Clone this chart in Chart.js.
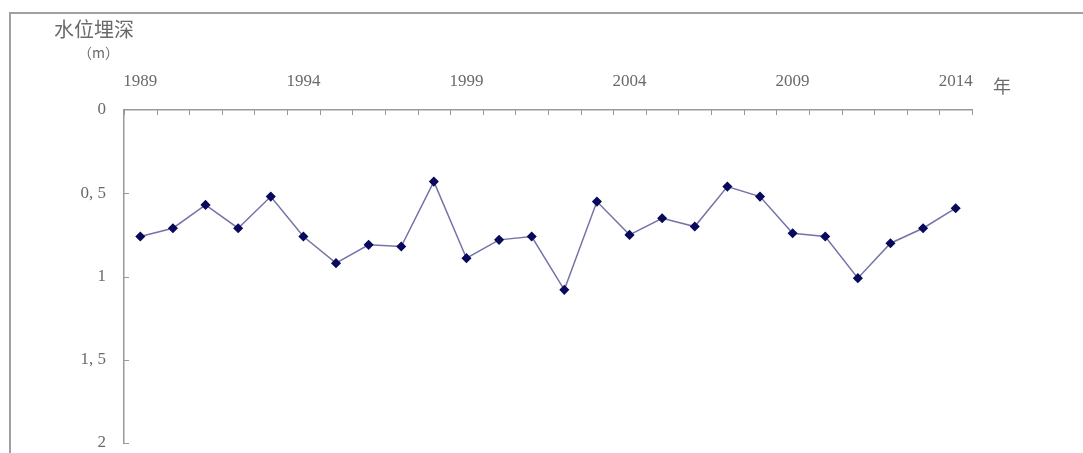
<!DOCTYPE html>
<html>
<head>
<meta charset="utf-8">
<script src="https://cdn.jsdelivr.net/npm/chart.js@4"></script>
<style>
  html, body { margin: 0; padding: 0; background: #fff; }
  #wrap { position: relative; width: 1083px; height: 453px; }
</style>
</head>
<body>
<div id="wrap"><canvas id="c" width="1083" height="453"></canvas></div>
<script>
// years on the top axis, one point per year
var years = [1989,1990,1991,1992,1993,1994,1995,1996,1997,1998,1999,2000,2001,
             2002,2003,2004,2005,2006,2007,2008,2009,2010,2011,2012,2013,2014];
// 水位埋深 (m)
var depth = [0.76,0.71,0.57,0.71,0.52,0.76,0.92,0.81,0.82,0.43,0.89,0.78,0.76,
             1.08,0.55,0.75,0.65,0.70,0.46,0.52,0.74,0.76,1.01,0.80,0.71,0.59];
var yearLabels = [1989, 1994, 1999, 2004, 2009, 2014];
var yTickLabels = { 0: '0', 0.5: '0, 5', 1: '1', 1.5: '1, 5', 2: '2' };

var AXIS = '#9a9a9a';
var TEXT = '#6a6a6a';
var SERIF = '"Liberation Serif", "DejaVu Serif", serif';
var CJK = '"Noto Sans CJK SC", sans-serif';

var decor = {
  id: 'decor',
  beforeDraw: function(chart) {
    var c = chart.ctx;
    c.save();
    c.strokeStyle = '#a0a0a0';
    c.lineWidth = 2;
    c.beginPath();
    c.moveTo(10, 453); c.lineTo(10, 13); c.lineTo(1083, 13);
    c.stroke();
    c.restore();
  },
  afterDraw: function(chart) {
    var c = chart.ctx;
    var xs = chart.scales.x, ys = chart.scales.y;
    c.save();
    // inward tick marks
    c.strokeStyle = AXIS;
    c.lineWidth = 1;
    c.beginPath();
    for (var i = 0; i <= years.length; i++) {
      var px = Math.round(xs.getPixelForValue(i - 0.5)) + 0.5;
      c.moveTo(px, xs.bottom); c.lineTo(px, xs.bottom + 5);
    }
    [0.5, 1, 1.5, 2].forEach(function(v) {
      var py = Math.round(ys.getPixelForValue(v)) + 0.5;
      c.moveTo(ys.right, py); c.lineTo(ys.right + 5, py);
    });
    c.stroke();
    // titles
    c.fillStyle = TEXT;
    c.textBaseline = 'middle';
    c.font = '20px ' + CJK;
    c.fillText('水位埋深', 54, 29);
    c.font = '14px ' + CJK;
    c.fillText('（m）', 78, 53);
    c.font = '18px ' + CJK;
    c.fillText('年', 993, 86);
    c.restore();
  }
};

new Chart(document.getElementById('c'), {
  type: 'line',
  data: {
    labels: years,
    datasets: [{
      data: depth,
      borderColor: '#7474a8',
      borderWidth: 1.5,
      pointStyle: 'rectRot',
      pointRadius: 4,
      pointBackgroundColor: '#0a0a5c',
      pointBorderColor: '#0a0a5c',
      tension: 0
    }]
  },
  options: {
    responsive: false,
    animation: false,
    layout: { padding: { top: 0, left: 0, right: 111, bottom: 10 } },
    plugins: { legend: { display: false }, tooltip: { enabled: false } },
    scales: {
      x: {
        position: 'top',
        offset: true,
        afterFit: function(s) { s.height = 110; s.paddingLeft = 0; s.paddingRight = 0; },
        grid: { display: false, drawTicks: false },
        border: { display: true, color: AXIS, width: 1.5 },
        ticks: {
          autoSkip: false, maxRotation: 0, padding: 18,
          color: TEXT, font: { family: SERIF, size: 17 },
          callback: function(v, i) {
            return yearLabels.indexOf(years[i]) >= 0 ? String(years[i]) : '';
          }
        }
      },
      y: {
        reverse: true,
        min: 0, max: 2,
        afterFit: function(s) { s.width = 124; s.paddingTop = 0; s.paddingBottom = 0; },
        grid: { display: false, drawTicks: false },
        border: { display: true, color: AXIS, width: 1.5 },
        ticks: {
          stepSize: 0.5, padding: 18,
          color: TEXT, font: { family: SERIF, size: 17 },
          callback: function(v) { return yTickLabels[v]; }
        }
      }
    }
  },
  plugins: [decor]
});
</script>
</body>
</html>
